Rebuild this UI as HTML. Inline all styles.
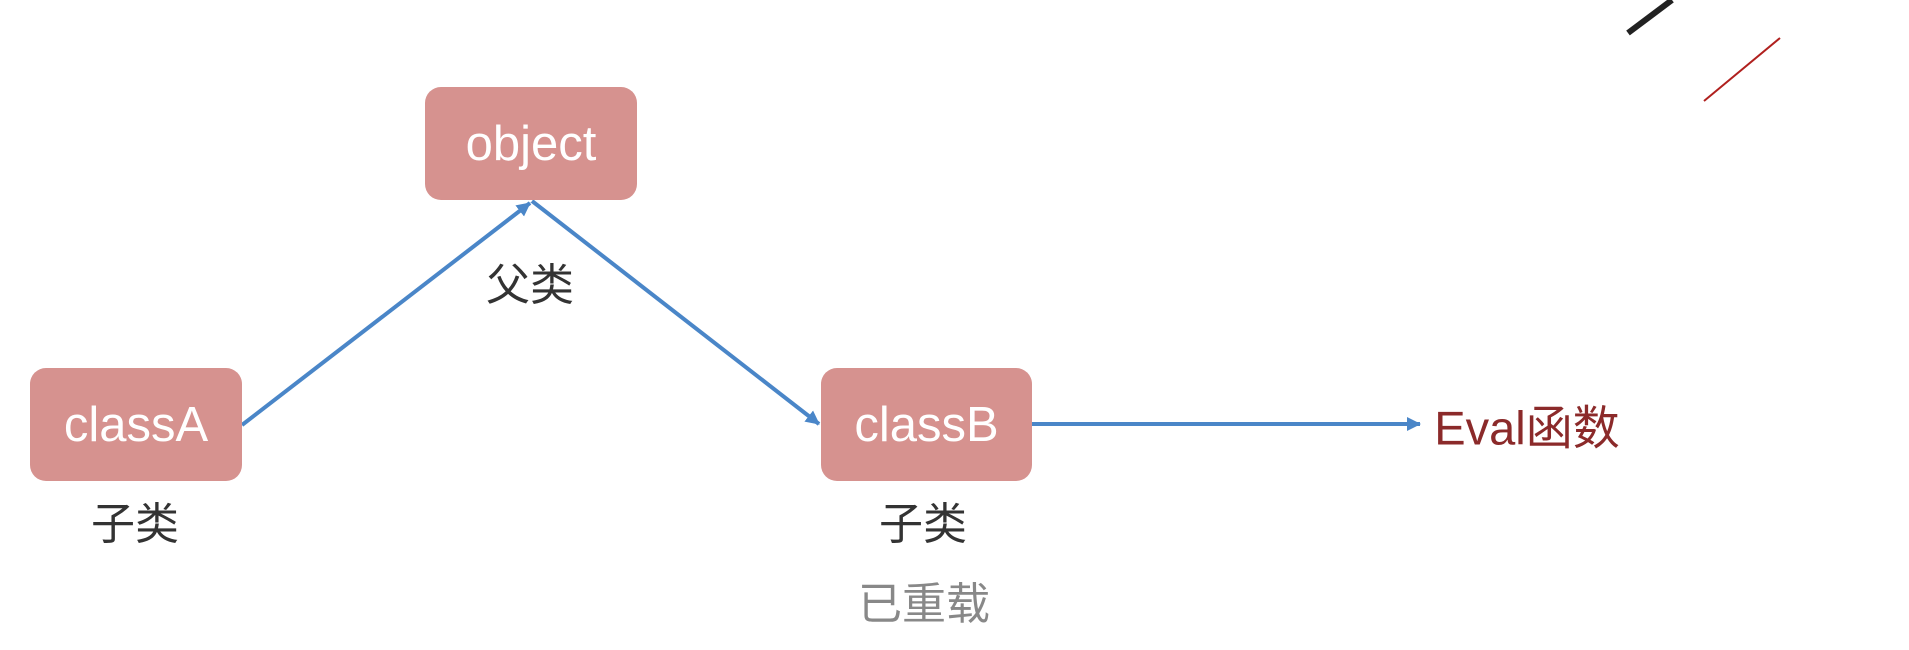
<!DOCTYPE html>
<html><head><meta charset="utf-8"><style>
body{margin:0;width:1909px;height:650px;background:#fff;overflow:hidden;position:relative;font-family:"Liberation Sans","Noto Sans CJK SC",sans-serif}
.b{position:absolute;background:#d6928f;border-radius:16px;color:#fff;font-size:49px;display:flex;align-items:center;justify-content:center}
.t{position:absolute;font-size:44px;color:#333;transform:translate(-50%,-50%);white-space:nowrap}
</style></head><body>
<svg width="1909" height="650" style="position:absolute;left:0;top:0">
<defs><marker id="a" markerWidth="8" markerHeight="8" refX="7" refY="4" orient="auto" markerUnits="userSpaceOnUse" viewBox="0 0 8 8"><path d="M0,0 L8,4 L0,8 z" fill="#4a86c8"/></marker>
<marker id="m" markerWidth="14" markerHeight="14" refX="13" refY="7" orient="auto" markerUnits="userSpaceOnUse"><path d="M0,0 L14,7 L0,14 z" fill="#4a86c8"/></marker></defs>
<line x1="242" y1="425" x2="530" y2="203" stroke="#4a86c8" stroke-width="4" marker-end="url(#m)"/>
<line x1="532" y1="201" x2="819" y2="424" stroke="#4a86c8" stroke-width="4" marker-end="url(#m)"/>
<line x1="1032" y1="424" x2="1420" y2="424" stroke="#4a86c8" stroke-width="4" marker-end="url(#m)"/>
<line x1="1628" y1="33" x2="1672" y2="0" stroke="#222" stroke-width="6"/>
<line x1="1704" y1="101" x2="1780" y2="38" stroke="#b0201e" stroke-width="2"/>
</svg>
<div class="b" style="left:425px;top:87px;width:212px;height:113px">object</div>
<div class="b" style="left:30px;top:368px;width:212px;height:113px">classA</div>
<div class="b" style="left:821px;top:368px;width:211px;height:113px">classB</div>
<div class="t" style="left:530px;top:281px">父类</div>
<div class="t" style="left:135px;top:520px">子类</div>
<div class="t" style="left:923px;top:520px">子类</div>
<div class="t" style="left:924px;top:600px;color:#888">已重载</div>
<div class="t" style="left:1527px;top:424px;color:#8b2a2a;font-size:47px">Eval函数</div>
</body></html>
